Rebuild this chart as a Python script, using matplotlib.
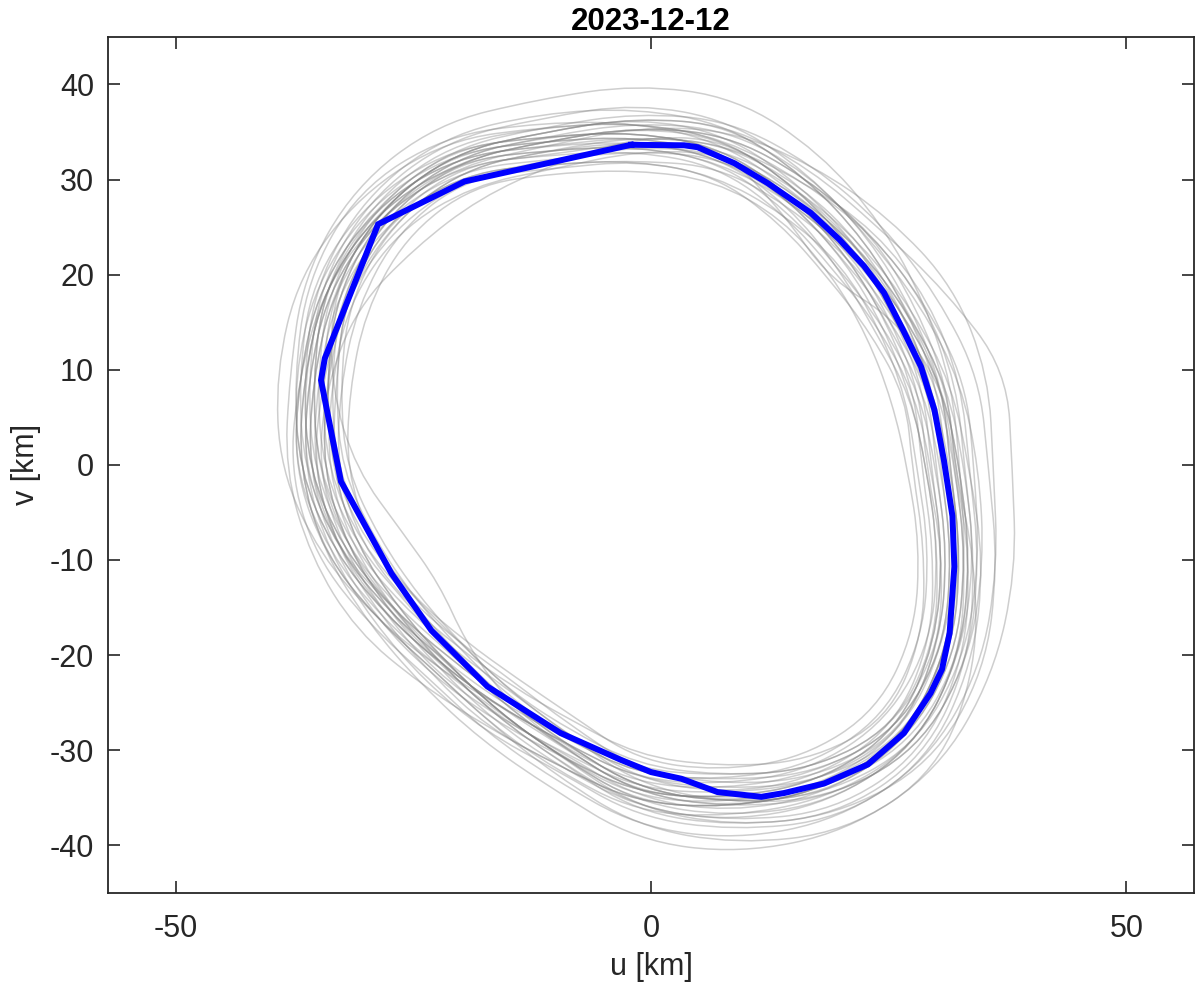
import numpy as np
import matplotlib.pyplot as plt
from matplotlib.path import Path
from matplotlib.patches import PathPatch

plt.rcParams["font.family"] = ["Liberation Sans", "DejaVu Sans"]
plt.rcParams["axes.unicode_minus"] = False

title = "2023-12-12"

# mean orbit (blue), km
blue_u = [-2.1, 3.5, 4.9, 8.8, 12.3, 16.8, 19.8, 22.4, 24.5, 26.5, 28.4, 29.8,
          30.8, 31.7, 31.9, 31.4, 30.6, 29.4, 26.6, 22.8, 18.2, 14.0, 11.6, 7.0,
          3.2, 0.0, -3.2, -9.5, -17.2, -23.1, -27.3, -32.6, -34.7, -34.3, -28.7,
          -19.6]
blue_v = [33.65, 33.6, 33.4, 31.7, 29.6, 26.5, 23.7, 20.9, 18.1, 14.2, 10.3, 5.8,
          0.5, -5.4, -10.7, -17.7, -21.5, -24.0, -28.2, -31.5, -33.5, -34.5, -34.9,
          -34.4, -33.0, -32.3, -31.0, -28.2, -23.3, -17.4, -11.4, -1.75, 8.9, 11.2,
          25.3, 29.8]

# individual orbits (gray): radius about the ring centre at fixed angles
ring_centre = (-1.5, -0.5)
angles_deg = [0, 15, 30, 45, 60, 75, 90, 105, 120, 135, 150, 165,
              180, 195, 210, 225, 240, 255, 270, 285, 300, 315, 330, 345]
band_r = [32.5, 32.3, 32.0, 32.5, 33.5, 35.0, 35.0, 35.3, 37.5, 38.0, 37.0, 34.8,
          33.5, 31.5, 29.5, 28.5, 28.8, 30.2, 33.5, 35.8, 38.5, 39.8, 37.8, 34.8]
gray_offsets = [
    [2, 2.5, 3, 2.5, 2, 1.5, 1, 0.5, 0, -0.5, -1, -1, -0.5, 0, 0.5, 1, 1.5, 2, 2, 2.5, 2, 1.5, 1.5, 2],
    [-2, -2.5, -2, -1.5, -1, -0.5, 0, 0.5, 1, 1.5, 2, 2.5, 2, 1.5, 1, 0.5, 0, -0.5, -1, -1.5, -2, -2.5, -2, -2],
    [0.5, 0, -0.5, -1, -1.5, -2, -2.5, -2, -1.5, -1, -0.5, 0, 0.5, 1, 1.5, 2, 2.5, 2, 1.5, 1, 0.5, 0, 0.5, 0.5],
    [3.5, 3, 2.5, 2, 2.5, 3, 3.5, 3, 2.5, 2, 1.5, 1, 0.5, 0, -0.5, -1, -0.5, 0, 0.5, 1, 1.5, 2, 2.5, 3],
    [-3, -3, -2.5, -2, -2.5, -3, -2.5, -2, -1.5, -1, -1.5, -2, -2.5, -3, -2.5, -2, -1.5, -1, -1.5, -2, -2.5, -3, -3, -3],
    [1, 1.5, 1, 0.5, 0, 0.5, 1.5, 2.5, 3, 3.5, 3, 2.5, 2, 1.5, 1, 0.5, 1, 1.5, 2, 2.5, 3, 2.5, 2, 1.5],
    [-1, -0.5, 0, 0.5, 1, 1.5, 2, 1.5, 1, 0.5, 0, -0.5, -1, -1.5, -2, -2.5, -3, -2.5, -2, -1.5, -1, -0.5, -1, -1],
    [7, 8, 5.5, 3.5, 3, 2.5, 2, 1.5, 1, 0.5, 1, 1.5, 2, 2.5, 2, 1.5, 2, 3, 4, 5, 5.5, 5, 5.5, 6.5],
    [1.5, 2, 3, 4, 5, 5.5, 5.5, 5, 4.5, 4, 3.5, 3, 3.5, 4, 4.5, 3.5, 2.5, 2, 1.5, 1, 0.5, 0.5, 1, 1],
    [-4, -4.5, -4, -3.5, -3, -3.5, -3.5, -3, -3, -3.5, -4, -3.5, -3, -2.5, -2.5, -3, -3.5, -3.5, -3, -3, -3.5, -4, -4, -4],
    [2.5, 2, 1.5, 1, 0.5, 0, -0.5, -1, -0.5, 0, 0.5, 1, 1.5, 2, 2.5, 3, 3, 2.5, 3, 3.5, 4, 3.5, 3, 3],
    [-0.5, -1, -1.5, -1, -0.5, 0, 0.5, 1, 1.5, 1, 0.5, 0, -0.5, -1, -1.5, -1, -0.5, 0, -0.5, -1, -1.5, -1, -0.5, -0.5],
    [0, 0.5, 1, 1.5, 2, 2.5, 2, 1.5, 1, 0.5, 0, 0.5, 1, 1, 0.5, 0, -0.5, -1, -1.5, -2, -1.5, -1, -0.5, 0],
    [-2, -1.5, -1, -0.5, -1, -1.5, -1, -0.5, 0, -0.5, -1, -1.5, -2, -2.5, -2, -1.5, -1, -0.5, 0, 0.5, 0, -0.5, -1, -1.5],
    [1, 1, 0.5, 0, 0.5, 1, 0, -2, -4.5, -5, -3, -1, 0, 0.5, 1, 1.5, 1, 0.5, 1, 1.5, 1, 0.5, 1, 1],
    [0, -0.5, -1, -1.5, -1, -0.5, 0, 0.5, 1, 0.5, 0, -1.5, -4, -6, -5.5, -3, -1, 0, 0.5, 1, 0.5, 0, 0, 0],
    [1.5, 1, -0.5, -4, -2.5, 0, 0.5, 1, 1.5, 2, 2.5, 2, 1.5, 1, 0.5, 0, 0.5, 1, 1.5, 2, 2, 1.5, 1.5, 1.5],
    [1, 1.5, 2, 2.5, 2, 1.5, 1, 0.5, 0, 0.5, 1, 1.5, 2, 2.5, 3, 3.5, 4, 4.5, 5.5, 6, 5.5, 5, 3.5, 2],
    [-1.5, -2, -2.5, -3, -2.5, -2, -1.5, -1, -0.5, -1, -1.5, -2, -1.5, -1, -0.5, 0, 0.5, 1, 0.5, 0, -0.5, -1, -1.5, -1.5],
    [3, 3.5, 3, 2.5, 1.5, 1, 1.5, 2, 2.5, 3, 4, 4.5, 4, 3, 2, 1, 0, -0.5, 0, 0.5, 1, 1.5, 2, 2.5],
    [0, 0, 0.5, 1, 1, 0.5, 0, -0.5, -1, -1.5, -1.5, -1, -0.5, 0, 0.5, 0.5, 0, -0.5, -1, -1, -0.5, 0, 0, 0],
    [1.5, 1, 0.5, 0, -0.5, -1, -1.5, -1.5, -1, -0.5, 0, 0.5, 1, 1.5, 2, 2, 1.5, 1, 0.5, 0, 0.5, 1, 1.5, 1.5],
    [-2.5, -2, -1.5, -1, -0.5, 0, 0.5, 1, 0.5, 0, -0.5, -1, -1.5, -2, -2.5, -2.5, -2, -1.5, -1, -0.5, -1, -1.5, -2, -2.5],
    [0.5, 1, 1.5, 2, 2.5, 2, 1.5, 1, 0.5, 0, -0.5, -1, -1.5, -1, -0.5, 0, 0.5, 1, 1.5, 1, 0.5, 0, 0, 0.5],
    [-1, -1.5, -2, -2.5, -2, -1.5, -1, -0.5, 0, 0.5, 1, 1.5, 1, 0.5, 0, -0.5, -1, -1.5, -2, -2.5, -2, -1.5, -1, -1],
    [2, 1.5, 1, 1.5, 2, 2.5, 3, 3.5, 3, 2.5, 2, 1.5, 1, 0.5, 0, 0.5, 1, 1.5, 2.5, 3, 3.5, 3, 2.5, 2],
    [-3.5, -3, -3.5, -4, -3.5, -3, -2.5, -2.5, -2, -2.5, -3, -2.5, -2, -1.5, -1.5, -2, -2.5, -3, -3.5, -3.5, -3, -2.5, -3, -3.5],
    [4.5, 5, 4.5, 4, 3.5, 3, 2.5, 2, 1.5, 1, 1.5, 2, 2.5, 2, 1.5, 1, 0.5, 1, 2, 3, 3.5, 4, 4.5, 4.5],
    [0, -0.5, -0.5, 0, 0.5, 1, 1, 0.5, 0, 0, 0.5, 1, 1.5, 1, 0, -0.5, -1, -0.5, 0, 0.5, 1, 0.5, 0, 0],
    [-1.5, -1, -0.5, 0, 0, -0.5, -1, -1.5, -2, -2, -1.5, -0.5, 0.5, 1, 1, 0.5, 0, 0, 0.5, 0, -0.5, -1, -1.5, -1.5],
    [1, 0.5, 0, -0.5, -1, -1, -0.5, 0, 0.5, 1, 1.5, 2, 2.5, 2.5, 2, 1.5, 2, 2.5, 2.5, 2, 1.5, 1.5, 1.5, 1],
    [-0.5, 0, 0.5, 0.5, 0, -0.5, -1.5, -2.5, -3, -2.5, -2, -1.5, -1, -0.5, 0, 0.5, 1, 0.5, 0, -0.5, -0.5, -0.5, -0.5, -0.5],
    [2.5, 3, 3.5, 3, 1.5, 0.5, 0, 0, 0.5, 1, 1, 0.5, 0, -0.5, -1, -1.5, -2, -1.5, -0.5, 0.5, 1.5, 2, 2.5, 2.5],
    [-2, -2.5, -3, -2.5, -1.5, -1, -0.5, -0.5, -1, -1.5, -2, -2.5, -3, -3.5, -3, -2.5, -2, -2, -2.5, -2.5, -2, -1.5, -1.5, -2],
    [0.5, 1, 1, 0.5, 0.5, 1, 1.5, 2, 2, 1.5, 1, 0.5, 0, 0, 0, 0, 0.5, 1, 1, 0.5, 0, 0, 0.5, 0.5],
    [5, 6, 6.5, 5, 3.5, 2, 1, 0, -0.5, 0, 1, 2, 3, 3.5, 3, 2.5, 3, 3.5, 4, 4.5, 4, 3.5, 4, 4.5],
]

ink = "#262626"


def smooth_ring(u, v):
    # closed quadratic B-spline through the polygon's edge midpoints
    pts = np.column_stack([u, v])
    mids = (pts + np.roll(pts, -1, axis=0)) / 2
    verts = [mids[-1]]
    codes = [Path.MOVETO]
    for p, m in zip(pts, mids):
        verts += [p, m]
        codes += [Path.CURVE3, Path.CURVE3]
    return Path(verts, codes)


fig = plt.figure(figsize=(12, 9.91), dpi=100)
ax = fig.add_axes([0.09, 0.099, 0.905, 0.8638])

theta = np.radians(angles_deg)
base = np.array(band_r)
for off in gray_offsets:
    r = base + np.array(off)
    gu = ring_centre[0] + r * np.cos(theta)
    gv = ring_centre[1] + r * np.sin(theta)
    ax.add_patch(PathPatch(smooth_ring(gu, gv), fill=False, edgecolor="#808080",
                           lw=1.1, alpha=0.38, zorder=1))

ax.plot(blue_u + blue_u[:1], blue_v + blue_v[:1], color="#0000ff", lw=4.3,
        solid_joinstyle="miter", zorder=3)

ax.set_xlim(-57.1, 57.1)
ax.set_ylim(-45, 45)
ax.set_xticks([-50, 0, 50])
ax.set_yticks([-40, -30, -20, -10, 0, 10, 20, 30, 40])
ax.tick_params(direction="in", length=8.5, width=1.2, top=True, right=True,
               labelsize=22, colors=ink)
ax.tick_params(axis="x", pad=15)
ax.tick_params(axis="y", pad=10)
for s in ax.spines.values():
    s.set_color(ink)
    s.set_linewidth(1.3)

ax.set_xlabel("u [km]", fontsize=22, color=ink, labelpad=6)
ax.set_ylabel("v [km]", fontsize=22, color=ink, labelpad=6)
ax.set_title(title, fontsize=22.5, fontweight="bold", color="black", pad=5)

fig.savefig("out.png", dpi=100)
